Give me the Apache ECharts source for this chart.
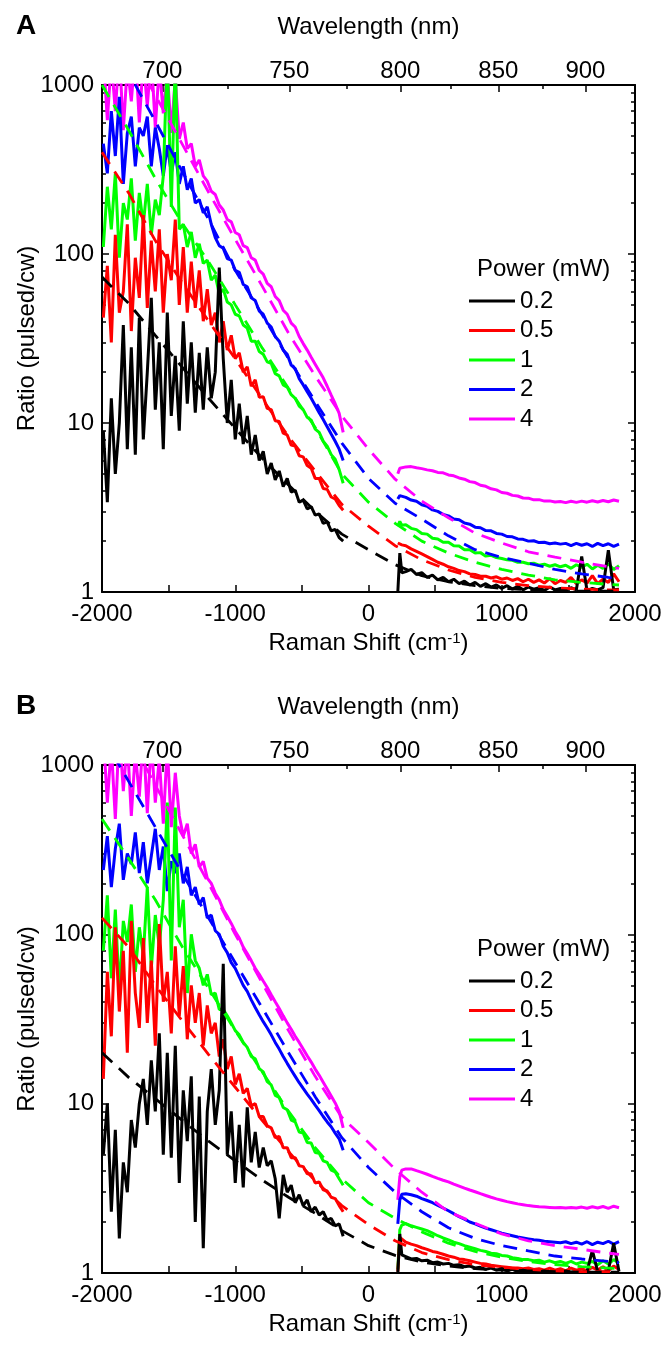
<!DOCTYPE html>
<html>
<head>
<meta charset="utf-8">
<title>Ratio (pulsed/cw) vs Raman shift</title>
<script src="https://cdn.jsdelivr.net/npm/echarts@6/dist/echarts.min.js"></script>
<style>
  html, body { margin: 0; padding: 0; background: #fff; }
  #chart { width: 666px; height: 1345px; }
</style>
</head>
<body>
<div id="chart"></div>
<script type="text/javascript">
// x grids, Raman shift in cm-1
var antiShift = [-1990, -1960, -1930, -1900, -1870, -1840, -1810, -1780, -1750, -1720,
  -1690, -1660, -1630, -1600, -1570, -1540, -1510, -1480, -1450, -1420,
  -1390, -1360, -1330, -1300, -1270, -1240, -1210, -1180, -1150, -1120,
  -1090, -1060, -1030, -1000, -970, -940, -910, -880, -850, -820,
  -790, -760, -730, -700, -670, -640, -610, -580, -550, -520,
  -490, -460, -430, -400, -370, -340, -310, -280, -250, -220, -190];
var stokesShift = [220, 235, 250, 280, 320, 360, 400, 440, 480, 520,
  560, 600, 640, 680, 720, 760, 800, 840, 880, 920,
  960, 1000, 1040, 1080, 1120, 1160, 1200, 1240, 1280, 1320,
  1360, 1400, 1440, 1480, 1520, 1560, 1600, 1640, 1680, 1720,
  1760, 1800, 1840, 1880];
var fitShift = [-2000, -1800, -1600, -1400, -1200, -1000, -800, -600, -400, -200,
  0, 200, 400, 600, 800, 1000, 1200, 1400, 1600, 1800, 1880];

var powers = ['0.2', '0.5', '1', '2', '4'];
var colors = ['#000000', '#ff0000', '#00ff00', '#0000ff', '#ff00ff'];

// top axis: wavelength (nm) for a 785 nm laser
var laserNm = 785;
var wlMajor = [700, 750, 800, 850, 900];
var wlMinor = [725, 775, 825, 875];
var logMajor = [1, 10, 100, 1000];
var logMinor = [2, 3, 4, 5, 6, 7, 8, 9, 20, 30, 40, 50, 60, 70, 80, 90, 200, 300, 400, 500, 600, 700, 800, 900];

// ---- panel A ----
var aBlackAS = [9, 3.4, 14, 5, 10, 38, 7, 28, 6.5, 42,
  8, 20, 55, 12, 30, 7, 45, 11, 25, 9,
  40, 13, 30, 11.5, 26, 12, 28, 14, 20, 83,
  24, 10, 18, 8, 13, 7.5, 11, 6.5, 8.5, 6,
  6.8, 5, 5.8, 4.6, 5.2, 4.2, 4.7, 3.9, 4.0, 3.4,
  3.5, 3.1, 3.2, 2.85, 2.9, 2.55, 2.6, 2.3, 2.35, 2.1, 2.0];
var aRedAS = [42, 85, 30, 130, 45, 60, 150, 35, 95, 55,
  170, 48, 120, 60, 140, 45, 100, 70, 160, 50,
  110, 45, 90, 48, 80, 40, 62, 38, 45, 30,
  40, 27, 33, 24, 26, 20, 21.5, 16.5, 18, 14.2,
  14.3, 12.2, 12, 10.3, 10.2, 8.7, 8.5, 7.4, 7.3, 6.4,
  6.3, 5.6, 5.4, 4.7, 4.7, 4.1, 4.05, 3.65, 3.55, 3.25, 3.05];
var aGreenAS = [110, 250, 140, 300, 95, 200, 160, 280, 120, 230,
  150, 260, 130, 210, 170, 290, 1500, 190, 1400, 140,
  150, 110, 135, 95, 115, 88, 92, 70, 75, 58,
  62, 52, 50, 44, 43, 38, 36.5, 30.5, 30.5, 26.5,
  25.5, 23, 22.5, 19.6, 19, 16.8, 16.3, 14.7, 14, 12.6,
  12, 10.8, 10.4, 9.2, 8.8, 7.8, 7.3, 6.5, 6.1, 5.3, 4.4];
var aBlueAS = [450, 300, 700, 380, 850, 260, 520, 650, 330, 560,
  500, 650, 330, 560, 420, 290, 440, 300, 400, 260,
  330, 240, 280, 200, 210, 175, 190, 150, 125, 112,
  108, 94, 92, 80, 78, 66, 64, 55, 53, 46,
  44, 39, 37, 32.5, 30.5, 27, 25.5, 22, 21, 18.3,
  16.8, 15.3, 14, 12.7, 11.5, 10.5, 9.5, 8.6, 7.8, 7.0, 6.0];
var aMagentaAS = [1500, 620, 1400, 700, 1600, 540, 1300, 800, 1600, 600,
  1400, 750, 1500, 560, 1300, 680, 1200, 520, 1100, 480,
  600, 420, 450, 330, 360, 290, 270, 235, 225, 195,
  182, 160, 155, 134, 130, 112, 109, 95, 92, 80,
  76, 67, 64, 56, 53, 46.5, 44, 39, 37, 32.5,
  29.5, 27, 24.5, 22.3, 20.3, 18.5, 16.5, 14.6, 13, 11.4, 8.8];

var aBlackS = [1.0, 1.7, 1.3, 1.32, 1.36, 1.27, 1.3, 1.22, 1.26, 1.18,
  1.22, 1.15, 1.19, 1.12, 1.16, 1.1, 1.14, 1.08, 1.12, 1.07,
  1.1, 1.05, 1.09, 1.04, 1.08, 1.03, 1.07, 1.04, 1.06, 1.02,
  1.07, 1.03, 1.05, 1.02, 1.06, 1.03, 1.62, 1.02, 1.05, 1.03,
  1.06, 1.77, 1.03, 1.04];
var aRedS = [1.95, 2.0, 1.9, 1.88, 1.8, 1.74, 1.68, 1.62, 1.56, 1.5,
  1.46, 1.41, 1.38, 1.34, 1.32, 1.28, 1.27, 1.24, 1.24, 1.21,
  1.23, 1.19, 1.21, 1.17, 1.2, 1.15, 1.19, 1.14, 1.18, 1.13,
  1.2, 1.12, 1.17, 1.14, 1.22, 1.12, 1.18, 1.13, 1.25, 1.12,
  1.19, 1.14, 1.28, 1.15];
var aGreenS = [2.45, 2.62, 2.48, 2.5, 2.38, 2.34, 2.22, 2.2, 2.08, 2.06,
  1.97, 1.97, 1.88, 1.87, 1.78, 1.78, 1.7, 1.71, 1.63, 1.65,
  1.6, 1.58, 1.55, 1.54, 1.5, 1.5, 1.47, 1.48, 1.44, 1.46,
  1.42, 1.45, 1.41, 1.44, 1.38, 1.45, 1.4, 1.46, 1.37, 1.44,
  1.38, 1.47, 1.36, 1.43];
var aBlueS = [3.55, 3.72, 3.66, 3.63, 3.5, 3.44, 3.28, 3.22, 3.06, 3.0,
  2.88, 2.82, 2.7, 2.68, 2.56, 2.52, 2.42, 2.4, 2.31, 2.3,
  2.22, 2.2, 2.13, 2.12, 2.06, 2.05, 2.0, 2.01, 1.96, 1.97,
  1.93, 1.95, 1.92, 1.94, 1.88, 1.94, 1.89, 1.93, 1.86, 1.94,
  1.88, 1.93, 1.86, 1.92];
var aMagentaS = [5.0, 5.4, 5.45, 5.5, 5.52, 5.43, 5.37, 5.28, 5.22, 5.1,
  5.07, 4.93, 4.87, 4.73, 4.65, 4.5, 4.44, 4.28, 4.22, 4.08,
  4.02, 3.88, 3.84, 3.73, 3.7, 3.6, 3.59, 3.51, 3.52, 3.45,
  3.46, 3.41, 3.43, 3.38, 3.44, 3.39, 3.45, 3.4, 3.47, 3.41,
  3.48, 3.42, 3.5, 3.44];

var aBlackFit = [73, 51, 33, 21.5, 14, 9.3, 6.2, 4.3, 3.0, 2.2, 1.78, 1.45, 1.25, 1.15, 1.09, 1.05, 1.03, 1.02, 1.01, 1.01, 1.01];
var aRedFit = [400, 230, 120, 68, 40, 24, 14, 8.3, 5.2, 3.3, 2.45, 1.88, 1.55, 1.35, 1.22, 1.14, 1.09, 1.06, 1.04, 1.03, 1.03];
var aGreenFit = [1000, 540, 280, 153, 90, 50, 28, 16, 9.4, 5.0, 3.4, 2.55, 2.0, 1.7, 1.5, 1.36, 1.26, 1.18, 1.14, 1.11, 1.1];
var aBlueFit = [2300, 1180, 610, 310, 160, 80, 44, 24, 13.4, 7.6, 4.7, 3.35, 2.7, 2.15, 1.78, 1.6, 1.48, 1.36, 1.28, 1.22, 1.2];
var aMagentaFit = [3200, 1680, 870, 450, 232, 122, 65, 34, 19, 11, 7.0, 4.65, 3.45, 2.75, 2.23, 1.95, 1.73, 1.61, 1.5, 1.41, 1.38];

// ---- panel B ----
var bBlackAS = [5, 10, 2.3, 7, 1.6, 4.5, 3, 8, 5.5, 10,
  14, 7.5, 18, 9, 26, 5, 20, 4.8, 22, 3.4,
  12, 6, 14.5, 2, 11, 1.4, 9, 16, 7.5, 12,
  67, 5, 9, 3.4, 7.5, 3.2, 9.5, 4.5, 6.8, 4.2,
  5.5, 4.3, 4.6, 3.6, 2.1, 3.8, 3.0, 3.3, 2.6, 2.9,
  2.5, 2.7, 2.3, 2.45, 2.2, 2.3, 2.05, 2.1, 1.9, 1.95, 1.65];
var bRedAS = [14, 60, 25, 110, 35, 80, 20, 120, 45, 28,
  95, 30, 70, 22, 115, 40, 60, 26, 85, 33,
  65, 24, 50, 30, 45, 22, 38, 26, 30, 19,
  24, 16, 19, 13, 15, 11.5, 12.3, 9.7, 10, 8.4,
  8.4, 7.4, 7.2, 6.3, 6.4, 5.5, 5.5, 4.8, 4.8, 4.3,
  4.25, 3.85, 3.85, 3.4, 3.45, 3.1, 3.05, 2.8, 2.75, 2.5, 2.3];
var bGreenAS = [80, 170, 55, 140, 46, 120, 90, 150, 60, 110,
  75, 190, 63, 130, 85, 160, 600, 70, 560, 110,
  160, 45, 100, 70, 63, 50, 58, 44, 45, 36,
  36, 33, 30, 27, 25.5, 23, 21.5, 19, 18.4, 16.1,
  15.4, 13.5, 12.9, 11.2, 10.9, 9.5, 9.2, 8.0, 7.8, 6.8,
  6.7, 5.9, 5.85, 5.15, 5.1, 4.6, 4.5, 4.05, 3.95, 3.6, 3.3];
var bBlueAS = [240, 380, 190, 320, 450, 210, 300, 260, 400, 230,
  350, 200, 290, 420, 240, 330, 180, 270, 230, 300,
  200, 250, 170, 190, 150, 165, 125, 130, 105, 100,
  85, 78, 68, 63, 56, 50, 46, 41, 37, 33.5,
  30.5, 28, 25.5, 23, 21, 19, 17.3, 15.8, 14.5, 13.3,
  12.3, 11.4, 10.6, 9.8, 9.1, 8.4, 7.8, 7.3, 6.7, 6.2, 5.3];
var bMagentaAS = [1500, 600, 1300, 480, 1600, 700, 1400, 500, 1200, 650,
  1500, 520, 1400, 600, 1100, 450, 1300, 430, 900, 500,
  380, 450, 300, 340, 250, 270, 215, 200, 175, 160,
  140, 128, 116, 104, 95, 84, 77, 70, 63, 58,
  53, 48.5, 44, 40, 36.5, 33, 30, 27.5, 25, 23,
  21, 19.2, 17.6, 16, 14.7, 13.4, 12.2, 11.1, 10.1, 9.0, 7.2];

var bBlackS = [1.0, 1.7, 1.28, 1.25, 1.21, 1.22, 1.18, 1.19, 1.15, 1.16,
  1.13, 1.14, 1.11, 1.12, 1.09, 1.1, 1.07, 1.08, 1.05, 1.07,
  1.04, 1.06, 1.03, 1.05, 1.02, 1.04, 1.02, 1.03, 1.01, 1.03,
  1.01, 1.02, 1.01, 1.03, 1.01, 1.02, 1.01, 1.02, 1.36, 1.02,
  1.01, 1.03, 1.5, 1.02];
var bRedS = [1.02, 1.62, 1.58, 1.52, 1.48, 1.45, 1.41, 1.38, 1.34, 1.32,
  1.29, 1.26, 1.24, 1.21, 1.2, 1.18, 1.16, 1.14, 1.13, 1.11,
  1.1, 1.09, 1.08, 1.07, 1.07, 1.06, 1.07, 1.05, 1.06, 1.04,
  1.07, 1.04, 1.06, 1.03, 1.07, 1.04, 1.06, 1.03, 1.08, 1.04,
  1.09, 1.03, 1.1, 1.05];
var bGreenS = [1.05, 1.8, 1.92, 1.96, 1.9, 1.86, 1.82, 1.78, 1.72, 1.66,
  1.61, 1.57, 1.52, 1.49, 1.45, 1.42, 1.39, 1.36, 1.34, 1.31,
  1.3, 1.27, 1.26, 1.23, 1.22, 1.2, 1.2, 1.18, 1.19, 1.16,
  1.18, 1.15, 1.17, 1.14, 1.17, 1.13, 1.16, 1.14, 1.17, 1.12,
  1.18, 1.13, 1.2, 1.14];
var bBlueS = [1.95, 2.7, 2.92, 2.94, 2.9, 2.84, 2.75, 2.68, 2.6, 2.51,
  2.42, 2.33, 2.24, 2.15, 2.08, 2.0, 1.95, 1.89, 1.84, 1.8,
  1.76, 1.72, 1.69, 1.66, 1.63, 1.61, 1.59, 1.57, 1.56, 1.54,
  1.53, 1.52, 1.51, 1.53, 1.49, 1.52, 1.48, 1.53, 1.47, 1.52,
  1.49, 1.54, 1.48, 1.53];
var bMagentaS = [2.7, 3.7, 4.05, 4.12, 4.12, 4.02, 3.93, 3.83, 3.72, 3.62,
  3.53, 3.45, 3.35, 3.26, 3.17, 3.09, 3.02, 2.94, 2.87, 2.8,
  2.74, 2.69, 2.64, 2.6, 2.56, 2.53, 2.5, 2.48, 2.46, 2.45,
  2.44, 2.43, 2.44, 2.42, 2.44, 2.42, 2.45, 2.41, 2.46, 2.42,
  2.47, 2.41, 2.48, 2.43];

var bBlackFit = [20, 14.3, 10.7, 8.0, 6.0, 4.6, 3.55, 2.8, 2.25, 1.78, 1.45, 1.27, 1.16, 1.1, 1.06, 1.04, 1.03, 1.02, 1.01, 1.01, 1.01];
var bRedFit = [125, 84, 50, 31, 19.5, 12.5, 8.0, 5.2, 3.5, 2.5, 1.93, 1.55, 1.32, 1.2, 1.12, 1.08, 1.05, 1.03, 1.02, 1.02, 1.02];
var bGreenFit = [480, 280, 160, 85, 48, 27, 15.5, 9.0, 5.5, 3.6, 2.6, 2.1, 1.75, 1.5, 1.34, 1.24, 1.17, 1.12, 1.09, 1.07, 1.06];
var bBlueFit = [1500, 800, 430, 230, 125, 68, 37, 20, 11, 6.3, 4.2, 3.0, 2.3, 1.85, 1.6, 1.45, 1.35, 1.26, 1.21, 1.17, 1.15];
var bMagentaFit = [3000, 1500, 760, 390, 200, 100, 52, 27, 14.5, 8.3, 5.9, 4.1, 3.0, 2.3, 1.97, 1.7, 1.55, 1.45, 1.38, 1.31, 1.29];

var panels = [
  { letter: 'A', top: 85, height: 507,
    as: [aBlackAS, aRedAS, aGreenAS, aBlueAS, aMagentaAS],
    st: [aBlackS, aRedS, aGreenS, aBlueS, aMagentaS],
    fit: [aBlackFit, aRedFit, aGreenFit, aBlueFit, aMagentaFit] },
  { letter: 'B', top: 765, height: 508,
    as: [bBlackAS, bRedAS, bGreenAS, bBlueAS, bMagentaAS],
    st: [bBlackS, bRedS, bGreenS, bBlueS, bMagentaS],
    fit: [bBlackFit, bRedFit, bGreenFit, bBlueFit, bMagentaFit] }
];

var font = 'Liberation Sans, Arial, sans-serif';
var black = '#000000';

function toShift(nm) { return 1e7 / laserNm - 1e7 / nm; }
function toNm(shift) { return Math.round(1e7 / (1e7 / laserNm - shift)); }
function pairs(xs, ys) { return xs.map(function (x, i) { return [x, ys[i]]; }); }
function txt(size, extra) {
  var s = { fontSize: size, color: black, fontFamily: font, fontWeight: 'normal' };
  for (var k in extra) s[k] = extra[k];
  return s;
}

var grids = [], xAxes = [], yAxes = [], series = [], titles = [], legends = [];

panels.forEach(function (p, pi) {
  var dy = p.top - 85;
  grids.push({ left: 102, top: p.top, width: 533, height: p.height, containLabel: false, outerBoundsMode: 'none' });

  // bottom: Raman shift
  xAxes.push({
    gridIndex: pi, type: 'value', position: 'bottom', min: -2000, max: 2000, interval: 500,
    splitLine: { show: false },
    axisLine: { onZero: false, lineStyle: { color: black, width: 2 } },
    axisTick: { inside: true, length: 7, lineStyle: { color: black, width: 1.5 } },
    axisLabel: { margin: 10, formatter: function (v) { return v % 1000 === 0 ? String(v) : ''; }, fontSize: 24, color: black, fontFamily: font },
    name: 'Raman Shift (cm{sup|-1})', nameLocation: 'middle', nameGap: 39, nameMoveOverlap: false,
    nameTextStyle: txt(24, { rich: { sup: { fontSize: 15, color: black, fontFamily: font, verticalAlign: 'top' } } })
  });
  // top: wavelength, labelled ticks
  xAxes.push({
    gridIndex: pi, type: 'value', position: 'top', min: -2000, max: 2000,
    splitLine: { show: false },
    axisLine: { onZero: false, lineStyle: { color: black, width: 2 } },
    axisTick: { inside: true, length: 7, customValues: wlMajor.map(toShift), lineStyle: { color: black, width: 1.5 } },
    axisLabel: { margin: 2, customValues: wlMajor.map(toShift), formatter: toNm, fontSize: 24, color: black, fontFamily: font },
    name: 'Wavelength (nm)', nameLocation: 'middle', nameGap: 46, nameMoveOverlap: false, nameTextStyle: txt(24)
  });
  // top: wavelength, minor ticks
  xAxes.push({
    gridIndex: pi, type: 'value', position: 'top', min: -2000, max: 2000,
    splitLine: { show: false }, axisLine: { show: false }, axisLabel: { show: false },
    axisTick: { inside: true, length: 4, customValues: wlMinor.map(toShift), lineStyle: { color: black, width: 1.5 } }
  });

  ['left', 'right'].forEach(function (side) {
    yAxes.push({
      gridIndex: pi, type: 'log', logBase: 10, min: 1, max: 1000, position: side,
      splitLine: { show: false },
      axisLine: { onZero: false, lineStyle: { color: black, width: 2 } },
      axisTick: { inside: true, length: 7, customValues: logMajor, lineStyle: { color: black, width: 1.5 } },
      axisLabel: side === 'left'
        ? { margin: 8, customValues: logMajor, formatter: function (v) { return String(v); }, fontSize: 24, color: black, fontFamily: font }
        : { show: false },
      name: side === 'left' ? 'Ratio (pulsed/cw)' : '', nameLocation: 'middle', nameGap: 63, nameMoveOverlap: false,
      nameTextStyle: txt(24)
    });
    yAxes.push({
      gridIndex: pi, type: 'log', logBase: 10, min: 1, max: 1000, position: side,
      splitLine: { show: false }, axisLine: { show: false, onZero: false }, axisLabel: { show: false },
      axisTick: { inside: true, length: 4, customValues: logMinor, lineStyle: { color: black, width: 1.5 } }
    });
  });

  var xi = pi * 3, yi = pi * 4;
  // magenta first, black last (on top); fits drawn above the data
  [4, 3, 2, 1, 0].forEach(function (k) {
    var base = { type: 'line', xAxisIndex: xi, yAxisIndex: yi, symbol: 'none', silent: true, animation: false, clip: true };
    series.push(Object.assign({}, base, {
      name: powers[k], data: pairs(antiShift, p.as[k]), z: 2,
      lineStyle: { color: colors[k], width: 3 }, itemStyle: { color: colors[k] }
    }));
    series.push(Object.assign({}, base, {
      name: powers[k] + ' stokes', data: pairs(stokesShift, p.st[k]), z: 2,
      lineStyle: { color: colors[k], width: 3 }, itemStyle: { color: colors[k] }
    }));
  });
  [4, 3, 2, 1, 0].forEach(function (k) {
    series.push({
      type: 'line', xAxisIndex: xi, yAxisIndex: yi, symbol: 'none', silent: true, animation: false, clip: true,
      name: powers[k] + ' fit', data: pairs(fitShift, p.fit[k]), z: 3,
      lineStyle: { color: colors[k], width: 2.8, type: [14, 9] }, itemStyle: { color: colors[k] }
    });
  });

  titles.push({ text: p.letter, left: 16, top: 12 + dy, padding: 0, textStyle: txt(28, { fontWeight: 'bold' }) });
  titles.push({ text: 'Power (mW)', left: 477, top: 257 + dy, padding: 0, textStyle: txt(24) });
  legends.push({
    data: powers, orient: 'vertical', left: 469, top: 289 + dy, padding: 0,
    itemWidth: 46, itemHeight: 3, itemGap: 5.5, icon: 'rect', selectedMode: false,
    textStyle: txt(24, { lineHeight: 24 })
  });
});

var option = {
  backgroundColor: '#ffffff',
  animation: false,
  title: titles,
  legend: legends,
  grid: grids,
  xAxis: xAxes,
  yAxis: yAxes,
  series: series
};

var myChart = echarts.init(document.getElementById('chart'), null, { renderer: 'canvas' });
myChart.setOption(option);
</script>
</body>
</html>
